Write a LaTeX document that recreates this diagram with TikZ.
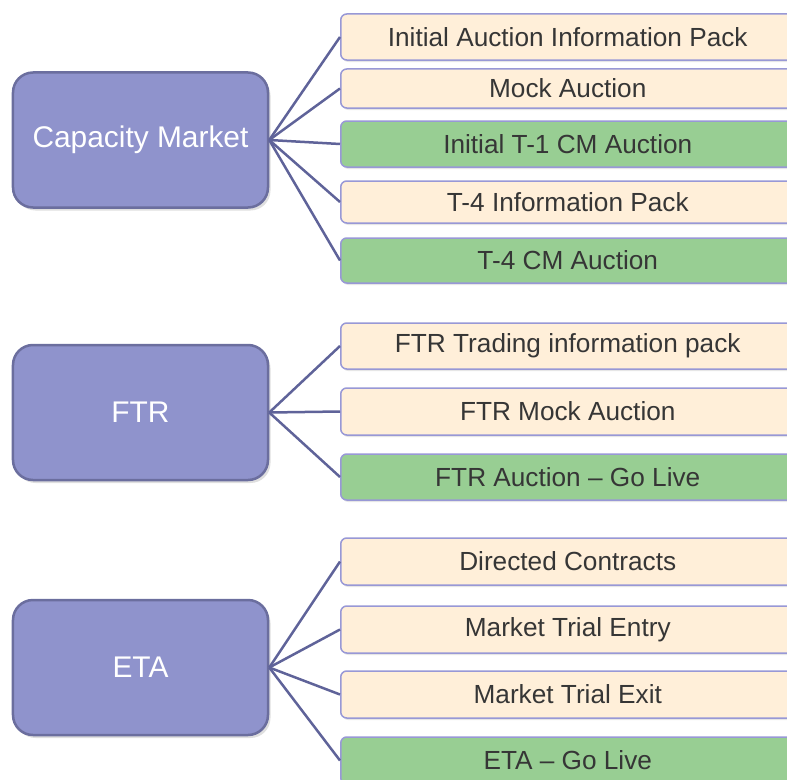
\documentclass[tikz,border=0pt]{standalone}
\usepackage{fontspec}
\setmainfont{Liberation Sans}
\usetikzlibrary{shadows}
\definecolor{topicfill}{HTML}{8F93CC}
\definecolor{topicline}{HTML}{6B6E9E}
\definecolor{infofill}{HTML}{FFEFD9}
\definecolor{infoline}{HTML}{9898D6}
\definecolor{livefill}{HTML}{98CE93}
\definecolor{linkline}{HTML}{5F6399}
\definecolor{textgray}{HTML}{363636}
\tikzset{
  topic/.style={draw=topicline, line width=2.5bp, fill=topicfill, rounded corners=20bp,
    minimum width=255bp, minimum height=135bp, inner sep=0pt, text=white,
    font=\fontsize{30}{34}\selectfont,
    drop shadow={shadow xshift=2.5bp, shadow yshift=-3bp, opacity=0.25}},
  infobox/.style={draw=infoline, line width=1.5bp, fill=infofill, rounded corners=6bp,
    minimum width=454bp, inner sep=0pt, anchor=west, text=textgray,
    font=\fontsize{26.3}{30}\selectfont,
    drop shadow={shadow xshift=1.5bp, shadow yshift=-2bp, opacity=0.2}},
  livebox/.style={infobox, fill=livefill},
  link/.style={draw=linkline, line width=2.5bp}
}
\begin{document}
\begin{tikzpicture}[x=1bp,y=-1bp]
\useasboundingbox (0,0) rectangle (787,780);
\clip (0,0) rectangle (787,780);
% Capacity Market
\node[topic] (cm) at (140.5,140) {Capacity Market};
\node[infobox, minimum height=46bp] (cm1) at (340,37) {Initial Auction Information Pack};
\node[infobox, minimum height=39bp] (cm2) at (340,88.5) {Mock Auction};
\node[livebox, minimum height=46bp] (cm3) at (340,144) {Initial T-1 CM Auction};
\node[infobox, minimum height=42bp] (cm4) at (340,202) {T-4 Information Pack};
\node[livebox, minimum height=45bp] (cm5) at (340,260.5) {T-4 CM Auction};
\foreach \i in {1,...,5}
  \draw[link] (cm.east) -- (cm\i.west);
% FTR
\node[topic] (ftr) at (140.5,412.5) {FTR};
\node[infobox, minimum height=46bp] (ftr1) at (340,346) {FTR Trading information pack};
\node[infobox, minimum height=47bp] (ftr2) at (340,411.5) {FTR Mock Auction};
\node[livebox, minimum height=46bp] (ftr3) at (340,477) {FTR Auction -- Go Live};
\foreach \i in {1,...,3}
  \draw[link] (ftr.east) -- (ftr\i.west);
% ETA
\node[topic] (eta) at (140.5,667.5) {ETA};
\node[infobox, minimum height=47bp] (eta1) at (340,561.5) {Directed Contracts};
\node[infobox, minimum height=47bp] (eta2) at (340,629.5) {Market Trial Entry};
\node[infobox, minimum height=47bp] (eta3) at (340,694.5) {Market Trial Exit};
\node[livebox, minimum height=47bp] (eta4) at (340,760.5) {ETA -- Go Live};
\foreach \i in {1,...,4}
  \draw[link] (eta.east) -- (eta\i.west);
\end{tikzpicture}
\end{document}
